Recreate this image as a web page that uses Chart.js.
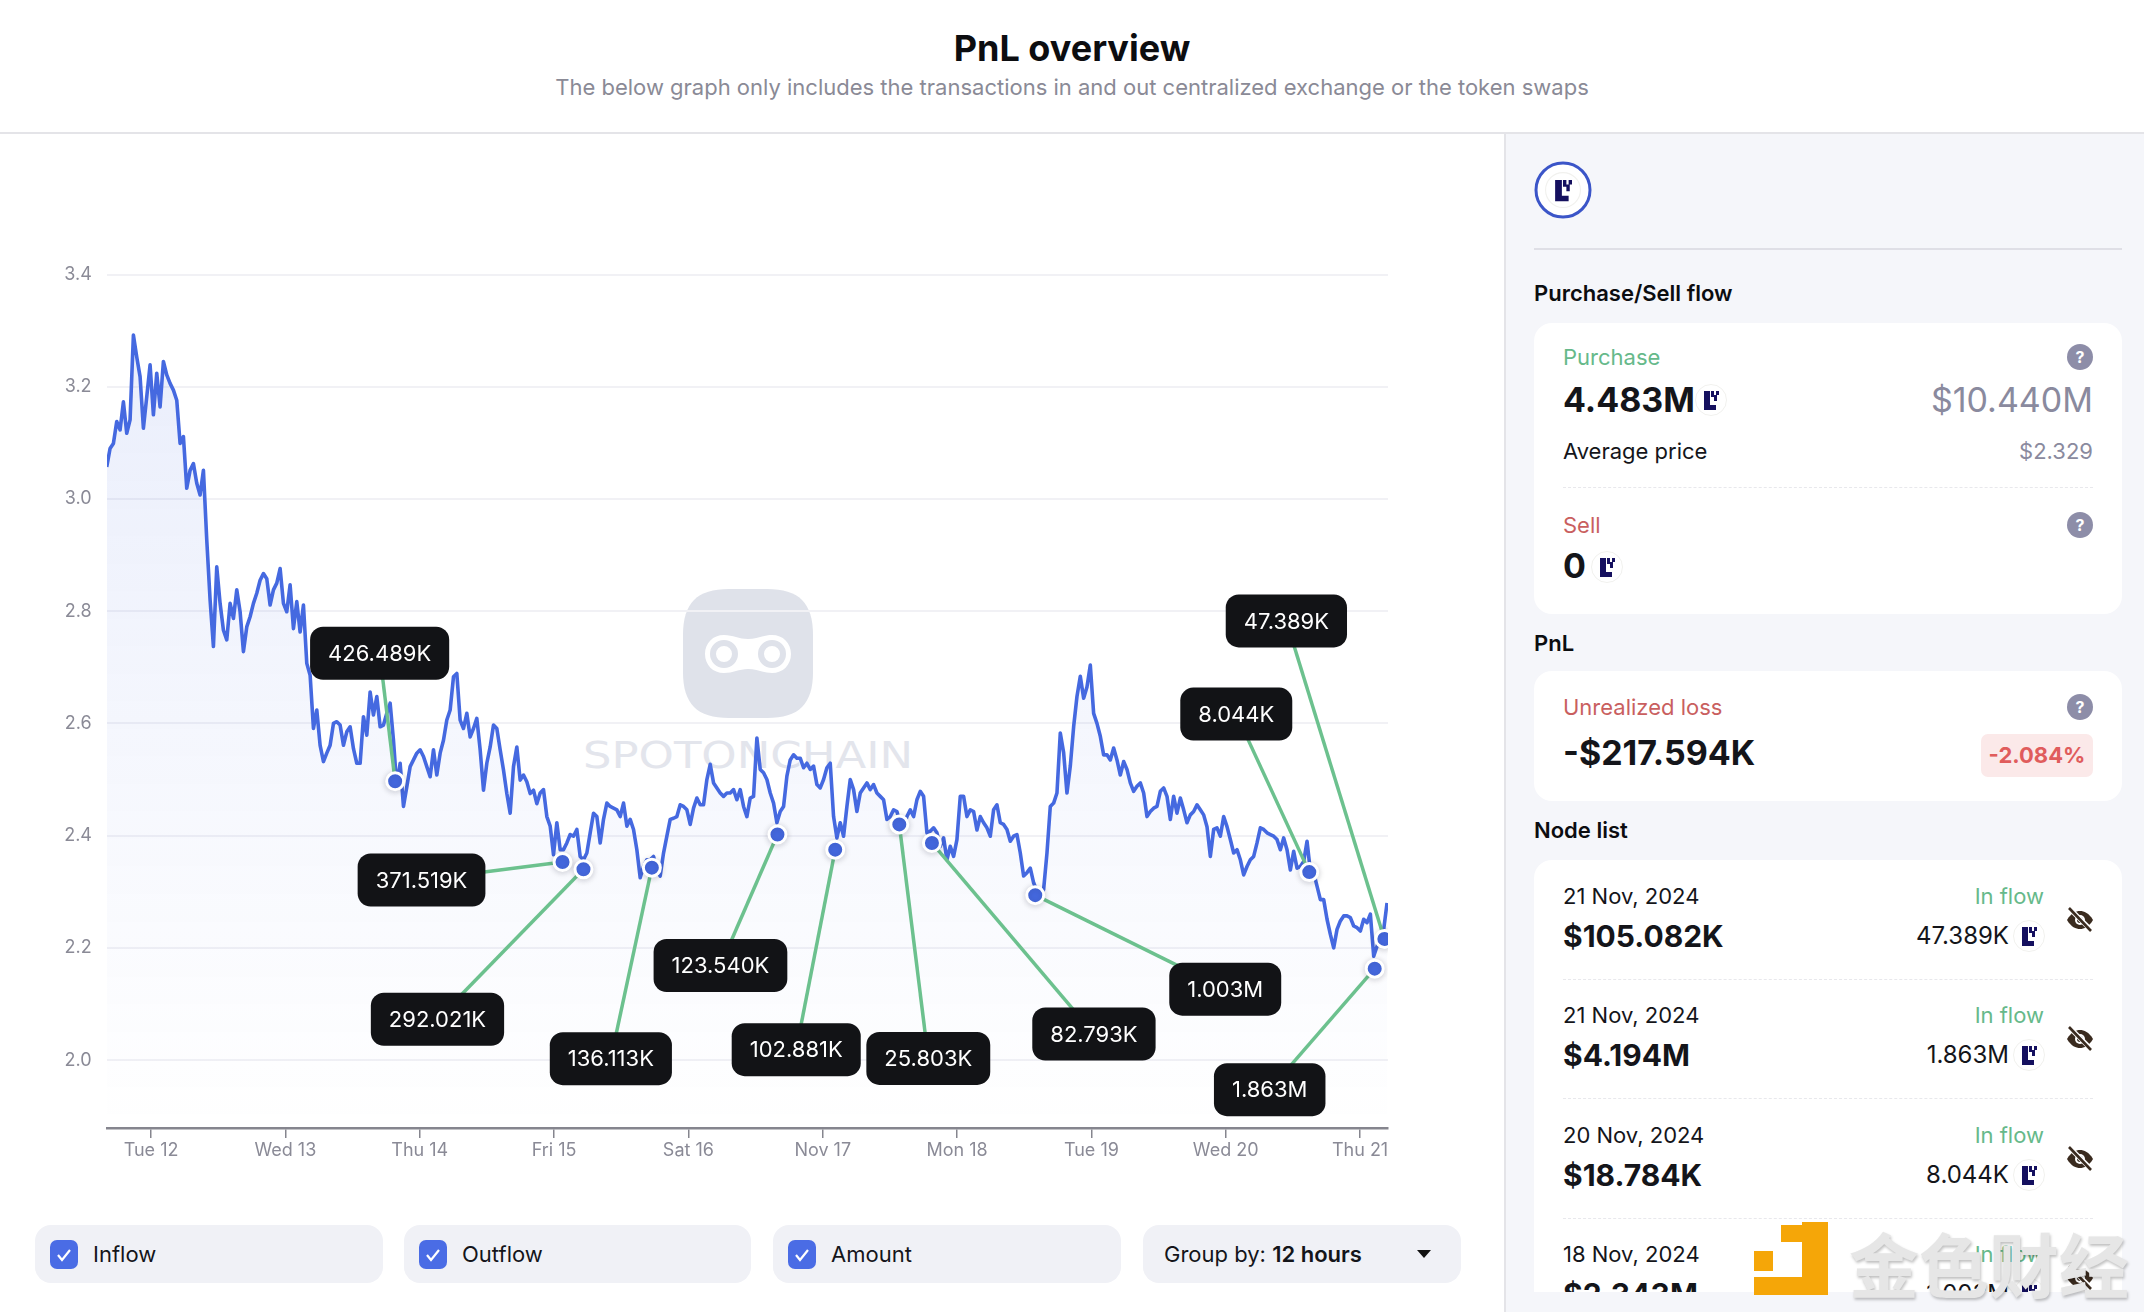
<!DOCTYPE html>
<html>
<head>
<meta charset="utf-8">
<title>PnL overview</title>
<script src="https://cdn.jsdelivr.net/npm/chart.js@4/dist/chart.umd.min.js"></script>
<style>
  html, body { margin: 0; padding: 0; background: #fff; }
  body { width: 2144px; height: 1312px; position: relative; overflow: hidden; font-family: Inter, "Noto Sans", sans-serif; color: #14151a; }
  .t { position: absolute; white-space: nowrap; line-height: 1; transform: translateY(-50%); }
  .box { position: absolute; }
  .b { font-weight: 700; }
  .label { font-size: 22px; }
  .big { font-size: 34px; font-weight: 700; }
  .green { color: #66b98a; }
  .red { color: #c95f5f; }
  .gray { color: #8a8a9e; }
  .head { font-size: 22px; font-weight: 600; color: #0c0d10; }
  .card { position: absolute; left: 1534px; width: 588px; background: #fff; border-radius: 18px; }
  .dash { position: absolute; left: 1563px; width: 530px; border-top: 1.5px dashed #e8e8ec; }
  .help { position: absolute; width: 26px; height: 26px; margin: -13px 0 0 -13px; border-radius: 50%; background: #8d8da8; color: #fff; font-size: 16px; font-weight: 700; text-align: center; line-height: 26px; }
  .tok { position: absolute; width: 32px; height: 32px; margin: -16px 0 0 -16px; }
  .eye { position: absolute; width: 28px; height: 28px; margin: -14px 0 0 -14px; }
  .ctl { position: absolute; top: 1225px; height: 58px; background: #f0f1f6; border-radius: 16px; }
  .chk { position: absolute; top: 1240px; width: 28px; height: 29px; background: #4a6ce5; border-radius: 7px; }
  #chartWrap { position: absolute; left: 0; top: 200px; width: 1440px; height: 1000px; }
</style>
</head>
<body>
<svg width="0" height="0" style="position:absolute">
  <symbol id="glyph" viewBox="0 0 32 32">
    <circle cx="16" cy="16" r="15.5" fill="#fff" stroke="#f1f1ee"/>
    <path d="M9 7h6v14h6v5H9z M16 7h3v6h-3z M21 7h3v4h-3z M19 11h3v6h-3z" fill="#15105f"/>
  </symbol>
  <symbol id="eyeoff" viewBox="0 0 28 28">
    <path d="M1 14C5 7 10 5 14 5s9 2 13 9c-4 7-9 9-13 9S5 21 1 14z" fill="#3a2b1f"/>
    <circle cx="14" cy="14" r="5" fill="#fff"/>
    <circle cx="14" cy="14" r="3" fill="#3a2b1f"/>
    <path d="M4 3l21 21" stroke="#fff" stroke-width="5"/>
    <path d="M3 2l22 23" stroke="#3a2b1f" stroke-width="2.6"/>
  </symbol>
</svg>

<!-- header -->
<div class="t b" style="left:1072px;top:48px;font-size:36px;transform:translate(-50%,-50%);color:#0c0d10">PnL overview</div>
<div class="t" style="left:1072px;top:87px;font-size:22px;transform:translate(-50%,-50%);color:#8a8a96">The below graph only includes the transactions in and out centralized exchange or the token swaps</div>
<div class="box" style="left:0;top:132px;width:2144px;height:2px;background:#e4e4e8"></div>

<!-- watermark under the chart -->
<svg class="box" style="left:570px;top:580px" width="360" height="200" viewBox="570 580 360 200">
  <path d="M683 635c0-32 14-46 46-46h38c32 0 46 14 46 46v37c0 32-14 46-46 46h-38c-32 0-46-14-46-46z" fill="#dfe2ea"/>
  <path d="M724 635c9 0 15 4 24 4s15-4 24-4c11 0 19 8 19 19s-8 19-19 19c-9 0-15-4-24-4s-15 4-24 4c-11 0-19-8-19-19s8-19 19-19z" fill="#fff"/>
  <circle cx="724" cy="654" r="11" fill="#fff" stroke="#dfe2ea" stroke-width="6"/>
  <circle cx="772" cy="654" r="11" fill="#fff" stroke="#dfe2ea" stroke-width="6"/>
  <text x="583" y="768" textLength="330" lengthAdjust="spacingAndGlyphs" font-family="DejaVu Sans" font-size="38" fill="#e3e5ec">SPOTONCHAIN</text>
</svg>

<div id="chartWrap"><canvas id="pnlChart" width="1440" height="1000"></canvas></div>

<!-- controls under the chart -->
<div class="ctl" style="left:35px;width:348px"></div>
<div class="ctl" style="left:404px;width:347px"></div>
<div class="ctl" style="left:773px;width:348px"></div>
<div class="ctl" style="left:1143px;width:318px"></div>
<div id="checks"></div>
<div class="t" style="left:1164px;top:1254px;font-size:22px">Group by: <span style="font-weight:600">12 hours</span></div>
<svg class="box" style="left:1416px;top:1249px" width="16" height="10"><path d="M1 1h14l-7 8z" fill="#111"/></svg>

<!-- sidebar -->
<div class="box" style="left:1504px;top:134px;width:640px;height:1178px;background:#f5f6fa;border-left:2px solid #e4e4e8"></div>
<svg class="box" style="left:1534px;top:161px" width="58" height="58"><circle cx="29" cy="29" r="27" fill="#fff" stroke="#3b55c8" stroke-width="3"/><use href="#glyph" x="11" y="11" width="36" height="36"/></svg>
<div class="box" style="left:1534px;top:248px;width:588px;height:2px;background:#dfdfe6"></div>

<div class="t head" style="left:1534px;top:293px">Purchase/Sell flow</div>
<div class="card" style="top:323px;height:291px"></div>
<div class="t label green" style="left:1563px;top:357px">Purchase</div>
<div class="help" style="left:2080px;top:357px">?</div>
<div class="t big" style="left:1563px;top:400px">4.483M</div>
<svg class="tok" style="left:1711px;top:400px"><use href="#glyph"/></svg>
<div class="t gray" style="right:51px;top:400px;font-size:34px">$10.440M</div>
<div class="t label" style="left:1563px;top:451px">Average price</div>
<div class="t label gray" style="right:51px;top:451px">$2.329</div>
<div class="dash" style="top:487px"></div>
<div class="t label red" style="left:1563px;top:525px">Sell</div>
<div class="help" style="left:2080px;top:525px">?</div>
<div class="t big" style="left:1563px;top:566px">0</div>
<svg class="tok" style="left:1607px;top:567px"><use href="#glyph"/></svg>

<div class="t head" style="left:1534px;top:643px">PnL</div>
<div class="card" style="top:671px;height:130px"></div>
<div class="t label red" style="left:1563px;top:707px">Unrealized loss</div>
<div class="help" style="left:2080px;top:707px">?</div>
<div class="t big" style="left:1563px;top:753px">-$217.594K</div>
<div class="box" style="left:1981px;top:734px;width:112px;height:43px;background:#fbe9e9;border-radius:7px"></div>
<div class="t b" style="right:51px;width:112px;text-align:center;top:755px;font-size:22px;color:#e05c5c">-2.084%</div>

<div class="t head" style="left:1534px;top:830px">Node list</div>
<div class="card" id="nodeList" style="top:860px;height:432px;overflow:hidden;border-radius:18px 18px 0 0"></div>

<!-- exchange watermark -->
<svg class="box" style="left:1750px;top:1218px" width="84" height="84" viewBox="1750 1218 84 84">
  <path d="M1802 1222h26v73h-74v-18h48z M1781 1225h21v17h-21z M1754 1251h19v20h-19z" fill="#f5a608"/>
</svg>
<div class="t" style="left:1849px;top:1263px;font-family:'Noto Sans CJK SC';font-weight:700;font-size:70px;color:#e6e6e6;text-shadow:1px 2px 3px rgba(0,0,0,.25)">金色财经</div>

<script>
// price line, one sample per 36 minutes or so
const startDay = 11.67;
const stepDay = 0.02482;
const priceValues = [
  3.057,3.090,3.099,3.138,3.123,3.173,3.117,3.141,3.292,3.253,3.218,3.126,3.182,3.239,3.150,3.224,3.164,3.245,3.221,3.206,
  3.194,3.176,3.099,3.111,3.019,3.051,3.063,3.028,3.007,3.051,2.927,2.820,2.737,2.879,2.814,2.766,2.749,2.814,2.787,2.838,
  2.799,2.728,2.772,2.790,2.814,2.832,2.855,2.867,2.858,2.811,2.838,2.850,2.876,2.814,2.799,2.847,2.769,2.817,2.763,2.811,
  2.707,2.686,2.591,2.624,2.561,2.532,2.547,2.561,2.600,2.603,2.597,2.561,2.585,2.594,2.555,2.529,2.529,2.612,2.579,2.656,
  2.615,2.648,2.594,2.597,2.618,2.636,2.570,2.487,2.529,2.452,2.487,2.523,2.535,2.547,2.553,2.541,2.523,2.505,2.553,2.508,
  2.547,2.570,2.606,2.624,2.683,2.689,2.606,2.591,2.618,2.576,2.591,2.609,2.553,2.481,2.529,2.558,2.597,2.591,2.553,2.517,
  2.475,2.440,2.523,2.558,2.499,2.508,2.496,2.475,2.481,2.457,
  2.476,2.482,2.434,2.417,2.366,2.423,2.375,2.375,2.387,2.402,2.399,2.411,2.363,2.357,2.369,2.405,2.440,2.434,2.387,2.429,
  2.458,2.452,2.449,2.446,2.434,2.458,2.417,2.429,2.411,2.375,2.325,2.345,2.357,2.357,2.363,2.339,2.328,2.369,2.399,2.429,
  2.431,2.434,2.455,2.452,2.446,2.420,2.449,2.467,2.455,2.455,2.500,2.527,2.494,2.485,2.476,2.470,2.476,2.476,2.482,2.464,
  2.482,2.452,2.434,2.467,2.470,2.574,2.518,2.512,2.500,2.476,2.458,2.423,2.443,2.452,2.506,2.535,2.544,2.538,2.538,2.521,
  2.529,2.518,2.524,2.491,2.485,2.500,2.521,2.529,2.434,2.396,2.423,2.399,2.452,2.500,2.482,2.443,2.476,2.485,2.494,2.482,
  2.491,2.476,2.470,2.464,2.429,2.434,2.446,2.443,2.420,2.417,2.434,2.446,2.434,2.464,2.479,2.470,2.405,2.408,2.414,2.405,
  2.381,2.396,2.357,2.381,2.363,2.393,2.470,
  2.470,2.434,2.446,2.443,2.410,2.434,2.423,2.414,2.399,2.446,2.455,2.423,2.420,2.411,2.390,2.399,2.402,2.369,2.328,2.334,
  2.342,2.316,2.301,2.295,2.304,2.369,2.452,2.458,2.476,2.583,2.548,2.476,2.524,2.594,2.648,2.684,2.645,2.665,2.704,2.618,
  2.600,2.577,2.544,2.544,2.535,2.556,2.535,2.508,2.532,2.518,2.494,2.479,2.488,2.494,2.476,2.434,2.443,2.449,2.452,2.479,
  2.485,2.470,2.429,2.470,2.440,2.467,2.446,2.423,2.437,2.443,2.455,2.446,2.437,2.416,2.363,2.411,2.414,2.399,2.434,2.416,
  2.393,2.369,2.375,2.357,2.330,2.345,2.357,2.363,2.387,2.414,2.411,2.405,2.402,2.399,2.393,2.375,2.396,2.375,2.339,2.372,
  2.342,2.345,2.354,2.390,2.337,2.334,2.310,2.286,2.286,2.251,2.224,2.200,2.233,2.248,2.257,2.257,2.254,2.239,2.236,2.230,
  2.251,2.245,2.260,2.185,2.203,2.221,2.233,2.280
];

const nodeDays = [13.817,15.063,15.219,15.728,16.663,17.093,17.570,17.813,18.582,20.622,21.109,21.181];
const nodePrices = [2.497,2.353,2.340,2.343,2.402,2.375,2.420,2.387,2.294,2.335,2.163,2.216];
const nodeLabels = ['426.489K','371.519K','292.021K','136.113K','123.540K','102.881K','25.803K','82.793K','1.003M','8.044K','1.863M','47.389K'];
// where each callout box sits relative to its node, pixels
const calloutOffsets = [[-15.5,-128],[-141,18],[-146,150],[-41,191],[-57,131],[-39,200],[29,234],[162,191],[190,94],[-73,-158],[-105,121],[-98,-318]];

const tickDays = [12,13,14,15,16,17,18,19,20,21];
const tickLabels = ['Tue 12','Wed 13','Thu 14','Fri 15','Sat 16','Nov 17','Mon 18','Tue 19','Wed 20','Thu 21'];
const priceTicks = [2,2.2,2.4,2.6,2.8,3,3.2,3.4];

const toggleNames = ['Inflow','Outflow','Amount'];
const listDates = ['21 Nov, 2024','21 Nov, 2024','20 Nov, 2024','18 Nov, 2024'];
const listUsd = ['$105.082K','$4.194M','$18.784K','$2.343M'];
const listTokens = ['47.389K','1.863M','8.044K','1.003M'];

// bottom toggles
let checksHtml = '';
[50, 419, 788].forEach((x, i) => {
  checksHtml += `<div class="chk" style="left:${x}px"><svg width="28" height="29"><path d="M8 15l4 5 8-10" fill="none" stroke="#fff" stroke-width="2.2"/></svg></div>`;
  checksHtml += `<div class="t" style="left:${x + 43}px;top:1254px;font-size:22px">${toggleNames[i]}</div>`;
});
document.getElementById('checks').innerHTML = checksHtml;

// node list rows, card starts at 860
let rowsHtml = '';
[35.5, 154.5, 275, 394].forEach((y, i) => {
  rowsHtml += `<div class="t label" style="left:29px;top:${y}px">${listDates[i]}</div>`;
  rowsHtml += `<div class="t b" style="left:29px;top:${y + 40}px;font-size:30px">${listUsd[i]}</div>`;
  rowsHtml += `<div class="t label green" style="right:78px;top:${y}px">In flow</div>`;
  rowsHtml += `<div class="t" style="right:113px;top:${y + 40}px;font-size:24px">${listTokens[i]}</div>`;
  rowsHtml += `<svg class="tok" style="left:495px;top:${y + 40}px"><use href="#glyph"/></svg>`;
  rowsHtml += `<svg class="eye" style="left:546px;top:${y + 24}px"><use href="#eyeoff"/></svg>`;
  if (i < 3) rowsHtml += `<div class="dash" style="left:29px;top:${y + 83}px"></div>`;
});
document.getElementById('nodeList').innerHTML = rowsHtml;

// leader lines go under the node dots, the black boxes go on top of everything
const nodeCallouts = {
  id: 'nodeCallouts',
  beforeDatasetDraw(chart, args) {
    if (args.index !== 1) return;
    const ctx = chart.ctx;
    const x = chart.scales.x, y = chart.scales.y;
    ctx.save();
    ctx.strokeStyle = '#6cc18e';
    ctx.lineWidth = 3.5;
    nodeDays.forEach((d, i) => {
      const px = x.getPixelForValue(d), py = y.getPixelForValue(nodePrices[i]);
      ctx.beginPath();
      ctx.moveTo(px, py);
      ctx.lineTo(px + calloutOffsets[i][0], py + calloutOffsets[i][1]);
      ctx.stroke();
    });
    ctx.restore();
    ctx.save();
    ctx.shadowColor = 'rgba(20,20,40,0.18)';
    ctx.shadowBlur = 6;
    ctx.shadowOffsetY = 1;
  },
  afterDatasetDraw(chart, args) {
    if (args.index === 1) chart.ctx.restore();
  },
  afterDatasetsDraw(chart) {
    const ctx = chart.ctx;
    const x = chart.scales.x, y = chart.scales.y;
    ctx.save();
    ctx.font = '22px Inter';
    ctx.textAlign = 'center';
    ctx.textBaseline = 'middle';
    nodeDays.forEach((d, i) => {
      const cx = x.getPixelForValue(d) + calloutOffsets[i][0];
      const cy = y.getPixelForValue(nodePrices[i]) + calloutOffsets[i][1];
      const w = ctx.measureText(nodeLabels[i]).width + 36;
      ctx.fillStyle = '#121316';
      ctx.beginPath();
      ctx.roundRect(cx - w / 2, cy - 26.5, w, 53, 13);
      ctx.fill();
      ctx.fillStyle = '#fff';
      ctx.fillText(nodeLabels[i], cx, cy + 1);
    });
    ctx.restore();
  }
};

new Chart(document.getElementById('pnlChart').getContext('2d'), {
  type: 'line',
  data: {
    datasets: [
      {
        data: priceValues.map((v, i) => ({ x: startDay + i * stepDay, y: v })),
        borderColor: '#4569e0',
        borderWidth: 3.6,
        borderJoinStyle: 'round',
        pointRadius: 0,
        tension: 0,
        order: 1,
        fill: 'start',
        backgroundColor(c) {
          const area = c.chart.chartArea;
          if (!area) return 'rgba(69,105,224,0.06)';
          const g = c.chart.ctx.createLinearGradient(0, area.top, 0, area.bottom);
          g.addColorStop(0, 'rgba(69,105,224,0.12)');
          g.addColorStop(1, 'rgba(69,105,224,0.0)');
          return g;
        }
      },
      {
        data: nodeDays.map((d, i) => ({ x: d, y: nodePrices[i] })),
        showLine: false,
        pointRadius: 8.5,
        pointBorderWidth: 3,
        pointBackgroundColor: '#4569e0',
        pointBorderColor: '#fff',
        order: 0
      }
    ]
  },
  options: {
    responsive: false,
    animation: false,
    layout: { padding: { left: 0, top: 74.5, right: 52, bottom: 0 } },
    plugins: { legend: { display: false }, tooltip: { enabled: false } },
    scales: {
      x: {
        type: 'linear',
        min: 11.672,
        max: 21.208,
        afterBuildTicks(axis) { axis.ticks = tickDays.map(v => ({ value: v })); },
        afterFit(axis) { axis.height = 72; },
        border: { color: '#85858e', width: 2.5 },
        grid: { drawOnChartArea: false, color: '#85858e', lineWidth: 1.5, tickLength: 10 },
        ticks: {
          autoSkip: false, maxRotation: 0, padding: 2,
          color: '#8a8a96', font: { family: 'Inter', size: 18 },
          callback: v => tickLabels[tickDays.indexOf(v)]
        }
      },
      y: {
        min: 1.879,
        max: 3.4,
        afterBuildTicks(axis) { axis.ticks = priceTicks.map(v => ({ value: v })); },
        afterFit(axis) { axis.width = 107; },
        border: { display: false },
        grid: { color: '#f1f1f5', lineWidth: 2, drawTicks: false },
        ticks: {
          crossAlign: 'center', padding: 15,
          color: '#8a8a96', font: { family: 'Inter', size: 18 }
        }
      }
    }
  },
  plugins: [nodeCallouts]
});
</script>
</body>
</html>
